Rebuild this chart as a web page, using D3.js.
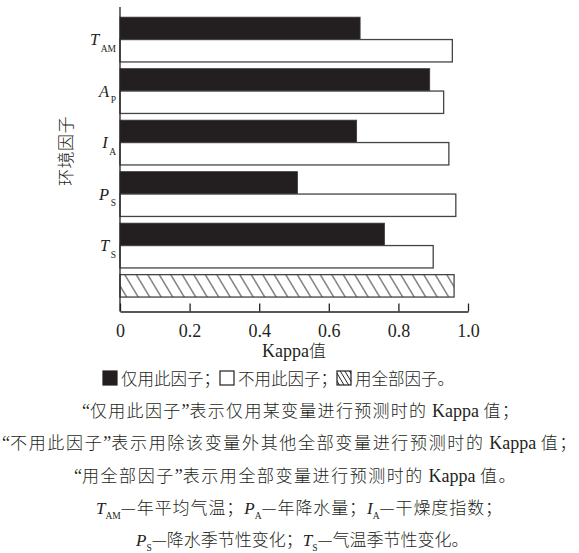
<!DOCTYPE html>
<html>
<head>
<meta charset="utf-8">
<script src="https://cdn.jsdelivr.net/npm/d3@7"></script>
<style>
  html, body { margin: 0; padding: 0; background: #fff; }
  svg { display: block; }
</style>
</head>
<body>
<svg id="chart" width="579" height="553"></svg>
<script>
// Environmental factors (italic letter + subscript) and their Kappa values
const factorKeys  = ["TAM", "AP", "IA", "PS", "TS"];
const factorMain  = ["T", "A", "I", "P", "T"];
const factorSub   = ["AM", "P", "A", "S", "S"];
const onlyThis    = [0.69, 0.89, 0.68, 0.51, 0.76];   // 仅用此因子
const withoutThis = [0.955, 0.93, 0.945, 0.965, 0.90]; // 不用此因子
const allFactors  = 0.96;                              // 用全部因子
const xTicks      = [0, 0.2, 0.4, 0.6, 0.8, 1.0];
const xTickLabels = ["0", "0.2", "0.4", "0.6", "0.8", "1.0"];

const INK = "#231f20";
const CJK = "'Noto Sans CJK SC', 'Noto Sans CJK JP', sans-serif";
const SERIF = "'Liberation Serif', 'DejaVu Serif', serif";

const svg = d3.select("#chart");

const defs = svg.append("defs");
function hatchPattern(id, spacing) {
  const p = defs.append("pattern")
    .attr("id", id)
    .attr("patternUnits", "userSpaceOnUse")
    .attr("width", spacing).attr("height", 10)
    .attr("patternTransform", "skewX(31)");
  p.append("rect").attr("width", spacing).attr("height", 10).attr("fill", "#fff");
  p.append("line")
    .attr("x1", spacing / 2).attr("y1", -1)
    .attr("x2", spacing / 2).attr("y2", 11)
    .attr("stroke", INK).attr("stroke-width", 1);
}
hatchPattern("hatch", 11.5);
hatchPattern("hatchSmall", 4.6);

// Scales
const groups = [...factorKeys, "ALL"];
const x = d3.scaleLinear().domain([0, 1]).range([120, 468]);
const y = d3.scaleBand().domain(groups).range([13.8, 322.8])
  .paddingInner(0.13).paddingOuter(0.065);
const sub = d3.scaleBand().domain(["only", "without"]).range([0, y.bandwidth()]);
const axisY = 311.5;

// Bars: used alone (black) and left out (white)
const rows = factorKeys.map((k, i) => ({ k, only: onlyThis[i], without: withoutThis[i] }));

svg.append("g").selectAll("rect").data(rows).join("rect")
  .attr("x", x(0))
  .attr("y", d => y(d.k) + sub("only"))
  .attr("width", d => x(d.only) - x(0))
  .attr("height", sub.bandwidth())
  .attr("fill", INK)
  .attr("stroke", "#3a3a3a").attr("stroke-width", 0.8);

svg.append("g").selectAll("rect").data(rows).join("rect")
  .attr("x", x(0))
  .attr("y", d => y(d.k) + sub("without"))
  .attr("width", d => x(d.without) - x(0))
  .attr("height", sub.bandwidth())
  .attr("fill", "#fff")
  .attr("stroke", "#444").attr("stroke-width", 1.3);

// All factors together (hatched)
svg.append("rect")
  .attr("x", x(0))
  .attr("y", y("ALL") + sub("only"))
  .attr("width", x(allFactors) - x(0))
  .attr("height", sub.bandwidth())
  .attr("fill", "url(#hatch)")
  .attr("stroke", "#444").attr("stroke-width", 1.3);

// Axes
svg.append("line")
  .attr("x1", x(0)).attr("x2", x(0))
  .attr("y1", 7).attr("y2", axisY)
  .attr("stroke", INK).attr("stroke-width", 1.3);

const xAxis = d3.axisBottom(x)
  .tickValues(xTicks)
  .tickFormat((d, i) => xTickLabels[i])
  .tickSizeInner(-8).tickSizeOuter(0);

const gx = svg.append("g").attr("transform", `translate(0,${axisY})`).call(xAxis);
gx.attr("font-family", SERIF).attr("font-size", 18);
gx.select(".domain").attr("stroke", INK).attr("stroke-width", 1.3);
gx.selectAll(".tick line").attr("stroke", INK).attr("stroke-width", 1.3);
gx.selectAll(".tick text")
  .attr("y", 25.5).attr("dy", null)
  .attr("font-family", SERIF).attr("font-size", 18).attr("fill", INK);

// Factor labels on the y side
const yl = svg.append("g").selectAll("text").data(rows).join("text")
  .attr("x", 116)
  .attr("y", d => y(d.k) + y.bandwidth() / 2 + 5.5)
  .attr("text-anchor", "end")
  .attr("font-family", SERIF).attr("fill", INK);
yl.append("tspan").attr("font-style", "italic").attr("font-size", 16.5)
  .text((d, i) => factorMain[i]);
yl.append("tspan").attr("font-size", 9.5).attr("dy", 6.5).attr("dx", 1.5)
  .text((d, i) => factorSub[i]);

// Axis titles
svg.append("text")
  .attr("transform", "translate(64.5,151) rotate(-90)")
  .attr("text-anchor", "middle").attr("dominant-baseline", "central")
  .attr("font-family", CJK).attr("font-weight", 300).attr("font-size", 17)
  .style("letter-spacing", "0.5px")
  .attr("fill", INK).text("环境因子");

const xt = svg.append("text")
  .attr("x", 294).attr("y", 357).attr("text-anchor", "middle").attr("fill", INK);
xt.append("tspan").attr("font-family", SERIF).attr("font-size", 18).text("Kappa");
xt.append("tspan").attr("font-family", CJK).attr("font-weight", 300).attr("font-size", 17).text("值");

// Legend line
const legendItems = [
  { fill: INK, label: "仅用此因子；" },
  { fill: "#fff", label: "不用此因子；" },
  { fill: "url(#hatchSmall)", label: "用全部因子。" }
];
const legendY = 385;
let lx = 103;
legendItems.forEach(it => {
  svg.append("rect")
    .attr("x", lx).attr("y", legendY - 14).attr("width", 14).attr("height", 14)
    .attr("fill", it.fill).attr("stroke", INK).attr("stroke-width", 1.2);
  const t = svg.append("text")
    .attr("x", lx + 18).attr("y", legendY)
    .attr("font-family", CJK).attr("font-weight", 300).attr("font-size", 16.5)
    .attr("fill", INK).text(it.label);
  lx += 18 + t.node().getComputedTextLength();
});

// Explanatory notes; CJK runs are spread so each line spans its full width
const notes = [
  { x: 82, y: 417, len: 438, segs: [
    ["s", "“"], ["c", "仅用此因子"], ["s", "”"], ["c", "表示仅用某变量进行预测时的"], ["s", " Kappa "], ["c", "值；"]
  ]},
  { x: 2, y: 449, len: 576, segs: [
    ["s", "“"], ["c", "不用此因子"], ["s", "”"], ["c", "表示用除该变量外其他全部变量进行预测时的"], ["s", " Kappa "], ["c", "值；"]
  ]},
  { x: 74, y: 482, len: 443, segs: [
    ["s", "“"], ["c", "用全部因子"], ["s", "”"], ["c", "表示用全部变量进行预测时的"], ["s", " Kappa "], ["c", "值。"]
  ]},
  { x: 96, y: 514, len: 407, segs: [
    ["i", "T"], ["b", "AM"], ["c", "—年平均气温；"],
    ["i", "P"], ["b", "A"], ["c", "—年降水量；"],
    ["i", "I"], ["b", "A"], ["c", "—干燥度指数；"]
  ]},
  { x: 136, y: 546, len: 320, segs: [
    ["i", "P"], ["b", "S"], ["c", "—降水季节性变化；"],
    ["i", "T"], ["b", "S"], ["c", "—气温季节性变化。"]
  ]}
];

notes.forEach(n => {
  const t = svg.append("text")
    .attr("x", n.x).attr("y", n.y)
    .attr("fill", INK);
  let lowered = false;
  let cjkCount = 0;
  const cjkSpans = [];
  n.segs.forEach(([kind, str]) => {
    const ts = t.append("tspan").text(str);
    if (kind === "c") {
      ts.attr("font-family", CJK).attr("font-weight", 300).attr("font-size", 17);
      cjkSpans.push(ts);
      cjkCount += str.length;
    } else if (kind === "s") {
      ts.attr("font-family", SERIF).attr("font-size", 18);
    } else if (kind === "i") {
      ts.attr("font-family", SERIF).attr("font-style", "italic").attr("font-size", 17);
    } else if (kind === "b") {
      ts.attr("font-family", SERIF).attr("font-size", 9.5);
    }
    if (kind === "b") { ts.attr("dy", 5); lowered = true; }
    else if (lowered) { ts.attr("dy", -5); lowered = false; }
  });
  const natural = t.node().getComputedTextLength();
  const extra = Math.max(0, (n.len - natural) / cjkCount);
  cjkSpans.forEach(s => s.style("letter-spacing", extra + "px"));
});
</script>
</body>
</html>
